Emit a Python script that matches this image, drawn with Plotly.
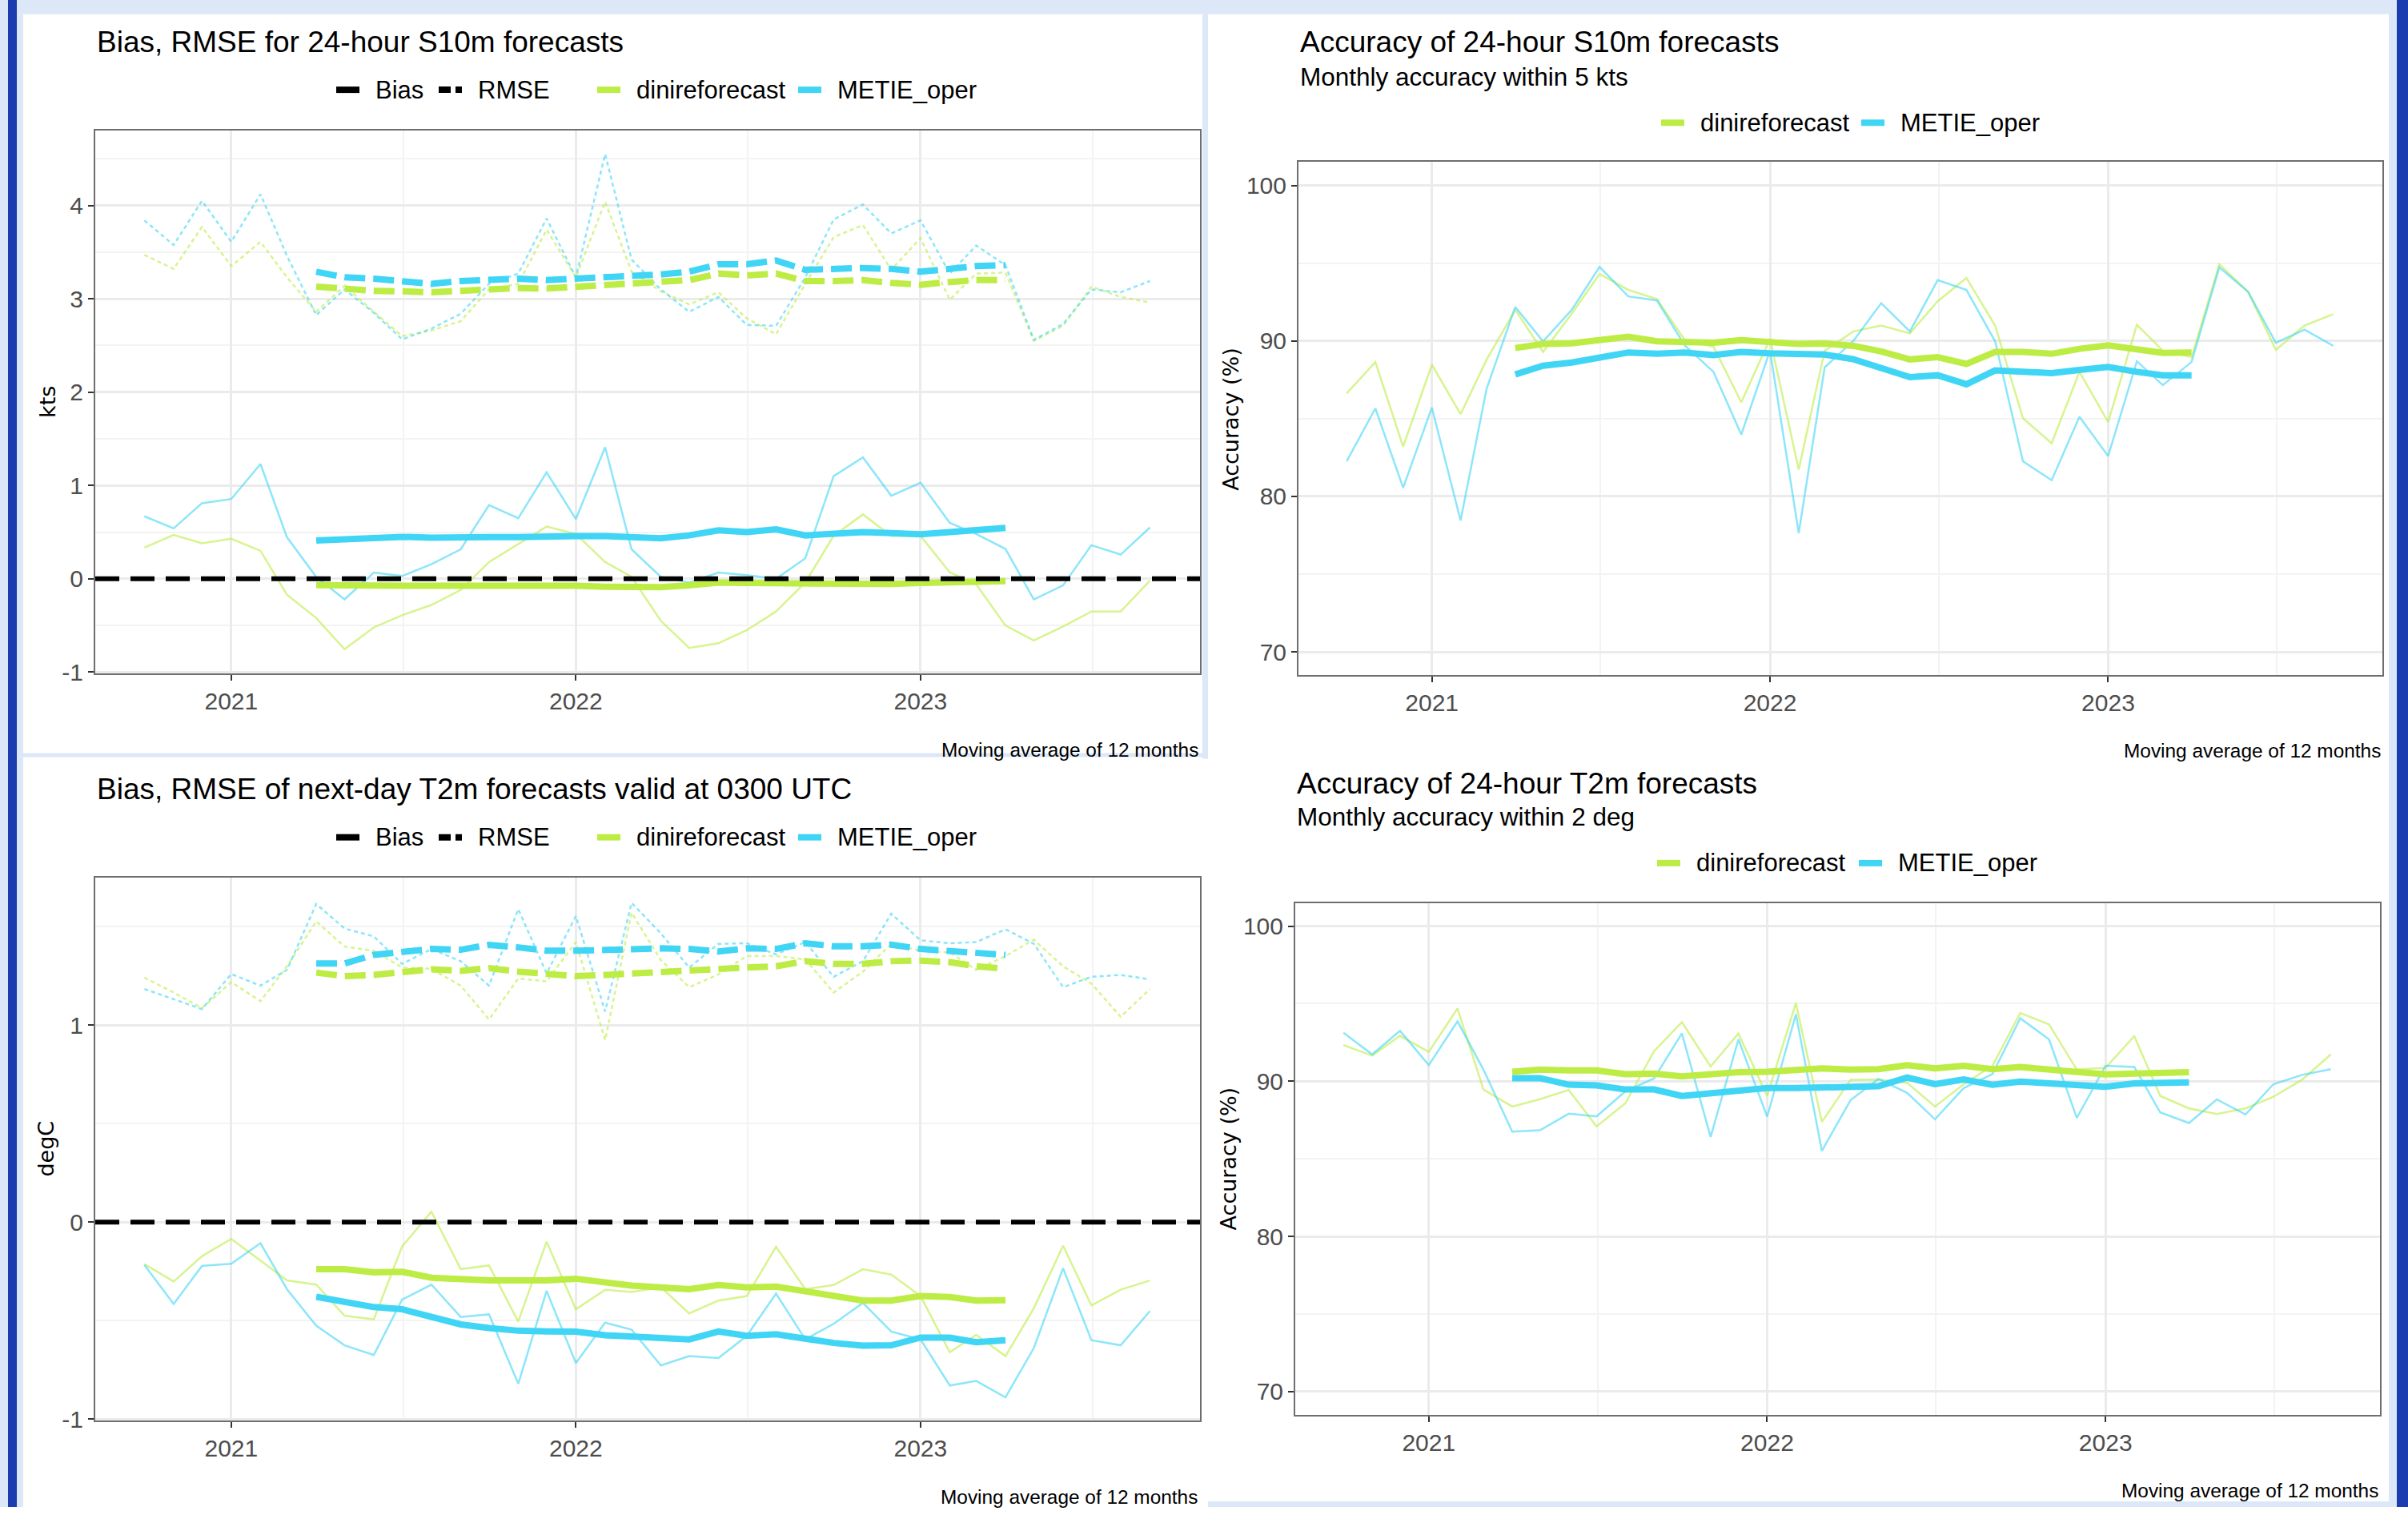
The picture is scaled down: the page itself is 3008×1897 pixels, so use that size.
import pandas as pd
import plotly.graph_objects as go

W, H = 3008, 1897

# ---------------- data ----------------
months = pd.date_range("2020-10-01", periods=36, freq="MS")
ma_months = pd.date_range("2021-04-01", periods=25, freq="MS")
year_ticks = ["2021", "2022", "2023"]
bias_yticks = [-1, 0, 1, 2, 3, 4]
t2_yticks = [-1, 0, 1]
acc_yticks = [70, 80, 90, 100]

s10_bias_dini = [0.335, 0.47, 0.38, 0.43, 0.30, -0.17, -0.42, -0.755, -0.52, -0.39, -0.28, -0.12,
                 0.18, 0.37, 0.56, 0.48, 0.18, 0.02, -0.45, -0.74, -0.69, -0.55, -0.35, -0.04,
                 0.46, 0.69, 0.46, 0.46, 0.07, -0.06, -0.50, -0.66, -0.51, -0.35, -0.35, -0.02]
s10_bias_metie = [0.67, 0.54, 0.81, 0.855, 1.23, 0.446, 0.02, -0.22, 0.067, 0.03, 0.156, 0.316,
                  0.79, 0.65, 1.14, 0.64, 1.41, 0.316, 0.02, -0.04, 0.067, 0.04, 0.0, 0.22,
                  1.10, 1.30, 0.89, 1.03, 0.60, 0.48, 0.32, -0.22, -0.07, 0.36, 0.26, 0.55]
s10_rmse_dini = [3.47, 3.32, 3.77, 3.35, 3.61, 3.23, 2.86, 3.14, 2.86, 2.60, 2.66, 2.76,
                 3.10, 3.16, 3.74, 3.23, 4.04, 3.29, 3.08, 2.94, 3.07, 2.79, 2.62, 3.16,
                 3.66, 3.79, 3.31, 3.65, 2.99, 3.27, 3.28, 2.55, 2.71, 3.13, 3.02, 2.96]
s10_rmse_metie = [3.84, 3.576, 4.05, 3.61, 4.12, 3.46, 2.825, 3.10, 2.85, 2.565, 2.68, 2.84,
                  3.16, 3.27, 3.86, 3.23, 4.55, 3.42, 3.10, 2.86, 3.02, 2.72, 2.71, 3.23,
                  3.85, 4.01, 3.70, 3.84, 3.27, 3.57, 3.36, 2.56, 2.73, 3.10, 3.07, 3.19]
s10_bias_dini_ma = [-0.067, -0.074, -0.08, -0.074, -0.074, -0.074, -0.067, -0.067, -0.067, -0.074,
                    -0.085, -0.093, -0.09, -0.07, -0.04, -0.045, -0.048, -0.05, -0.055, -0.06,
                    -0.055, -0.045, -0.035, -0.03, -0.025]
s10_bias_metie_ma = [0.41, 0.42, 0.43, 0.45, 0.44, 0.45, 0.446, 0.446, 0.457, 0.457, 0.457, 0.446,
                     0.435, 0.465, 0.52, 0.50, 0.53, 0.465, 0.476, 0.50, 0.49, 0.476, 0.50, 0.52, 0.546]
s10_rmse_dini_ma = [3.13, 3.10, 3.085, 3.08, 3.07, 3.085, 3.10, 3.115, 3.11, 3.13, 3.15, 3.16,
                    3.18, 3.20, 3.27, 3.25, 3.27, 3.19, 3.19, 3.20, 3.17, 3.15, 3.18, 3.20, 3.20]
s10_rmse_metie_ma = [3.29, 3.23, 3.215, 3.19, 3.16, 3.19, 3.20, 3.215, 3.20, 3.215, 3.23, 3.23,
                     3.26, 3.29, 3.37, 3.37, 3.41, 3.31, 3.32, 3.33, 3.32, 3.29, 3.32, 3.35, 3.36]

t2_bias_dini = [-0.213, -0.301, -0.173, -0.085, -0.195, -0.296, -0.317, -0.475, -0.493, -0.123, 0.053, -0.238,
                -0.22, -0.504, -0.099, -0.442, -0.343, -0.354, -0.33, -0.463, -0.398, -0.375, -0.125, -0.34,
                -0.319, -0.239, -0.266, -0.375, -0.66, -0.572, -0.68, -0.437, -0.12, -0.423, -0.343, -0.296]
t2_bias_metie = [-0.217, -0.415, -0.222, -0.211, -0.107, -0.34, -0.525, -0.625, -0.674, -0.393, -0.317, -0.481,
                 -0.468, -0.82, -0.349, -0.715, -0.51, -0.546, -0.727, -0.68, -0.69, -0.577, -0.363, -0.595,
                 -0.516, -0.41, -0.555, -0.595, -0.829, -0.806, -0.889, -0.639, -0.234, -0.599, -0.625, -0.451]
t2_rmse_dini = [1.241, 1.165, 1.086, 1.218, 1.121, 1.298, 1.526, 1.398, 1.377, 1.292, 1.285, 1.20,
                1.028, 1.236, 1.222, 1.421, 0.924, 1.570, 1.33, 1.192, 1.257, 1.35, 1.35, 1.333,
                1.165, 1.271, 1.412, 1.377, 1.368, 1.28, 1.35, 1.433, 1.298, 1.21, 1.042, 1.183]
t2_rmse_metie = [1.183, 1.132, 1.081, 1.259, 1.20, 1.28, 1.614, 1.49, 1.45, 1.31, 1.386, 1.324,
                 1.20, 1.588, 1.262, 1.553, 1.069, 1.62, 1.465, 1.292, 1.412, 1.415, 1.359, 1.421,
                 1.245, 1.324, 1.565, 1.43, 1.415, 1.421, 1.486, 1.412, 1.192, 1.245, 1.254, 1.232]
t2_bias_dini_ma = [-0.239, -0.239, -0.255, -0.252, -0.282, -0.292, -0.296, -0.296, -0.296, -0.287,
                   -0.308, -0.322, -0.331, -0.34, -0.319, -0.331, -0.327, -0.352, -0.37, -0.398,
                   -0.398, -0.375, -0.38, -0.398, -0.396]
t2_bias_metie_ma = [-0.379, -0.401, -0.431, -0.442, -0.484, -0.519, -0.537, -0.551, -0.555, -0.556,
                    -0.574, -0.581, -0.59, -0.595, -0.555, -0.577, -0.569, -0.595, -0.613, -0.627,
                    -0.625, -0.586, -0.586, -0.609, -0.599]
t2_rmse_dini_ma = [1.266, 1.248, 1.254, 1.271, 1.283, 1.275, 1.289, 1.271, 1.257, 1.248, 1.254, 1.262,
                   1.271, 1.28, 1.283, 1.292, 1.298, 1.324, 1.31, 1.31, 1.324, 1.327, 1.319, 1.298, 1.285]
t2_rmse_metie_ma = [1.312, 1.312, 1.356, 1.368, 1.386, 1.382, 1.407, 1.394, 1.377, 1.377, 1.382, 1.382,
                    1.389, 1.386, 1.373, 1.389, 1.386, 1.415, 1.40, 1.40, 1.408, 1.386, 1.377, 1.368, 1.356]

s10_acc_dini = [86.62, 88.64, 83.2, 88.47, 85.29, 88.78, 92.0, 89.29, 91.75, 94.3, 93.28, 92.69,
                90.05, 89.63, 86.05, 90.14, 81.72, 89.37, 90.61, 90.99, 90.48, 92.55, 94.05, 90.99,
                85.03, 83.42, 88.01, 84.78, 91.04, 89.37, 88.95, 94.93, 93.16, 89.42, 90.99, 91.72]
s10_acc_metie = [82.26, 85.66, 80.56, 85.71, 78.45, 86.9, 92.18, 89.97, 92.0, 94.76, 92.86, 92.6,
                 89.71, 88.01, 83.98, 89.37, 77.64, 88.30, 90.0, 92.43, 90.61, 93.91, 93.28, 89.97,
                 82.26, 81.04, 85.12, 82.6, 88.69, 87.16, 88.64, 94.73, 93.16, 89.88, 90.73, 89.68]
s10_acc_dini_ma = [89.54, 89.80, 89.85, 90.10, 90.27, 89.97, 89.97, 89.88, 90.05, 89.93, 89.80, 89.83,
                   89.68, 89.32, 88.81, 88.95, 88.52, 89.29, 89.29, 89.17, 89.49, 89.71, 89.51, 89.23, 89.25]
s10_acc_metie_ma = [87.84, 88.40, 88.61, 88.91, 89.25, 89.17, 89.25, 89.08, 89.29, 89.20, 89.12, 89.12,
                    88.82, 88.27, 87.67, 87.79, 87.21, 88.10, 88.01, 87.93, 88.13, 88.32, 88.01, 87.79, 87.79]

t2_acc_dini = [92.33, 91.65, 92.93, 91.89, 94.69, 89.47, 88.37, 88.84, 89.44, 87.09, 88.57, 91.94,
               93.81, 90.95, 93.08, 89.05, 95.05, 87.38, 90.10, 90.12, 89.90, 88.37, 89.81, 91.0,
               94.40, 93.67, 90.75, 90.87, 92.91, 89.05, 88.25, 87.89, 88.25, 89.0, 90.10, 91.73]
t2_acc_metie = [93.13, 91.73, 93.25, 91.04, 93.86, 90.75, 86.75, 86.84, 87.91, 87.74, 89.35, 90.19,
                93.08, 86.41, 92.70, 87.72, 94.32, 85.51, 88.79, 90.15, 89.25, 87.55, 89.56, 90.46,
                94.06, 92.70, 87.64, 91.0, 90.92, 87.99, 87.31, 88.83, 87.86, 89.81, 90.41, 90.78]
t2_acc_dini_ma = [90.61, 90.75, 90.70, 90.70, 90.46, 90.49, 90.32, 90.49, 90.58, 90.61, 90.75, 90.83,
                  90.75, 90.78, 91.04, 90.83, 91.0, 90.78, 90.92, 90.75, 90.54, 90.44, 90.49, 90.53, 90.58]
t2_acc_metie_ma = [90.20, 90.20, 89.78, 89.73, 89.47, 89.47, 89.05, 89.22, 89.47, 89.56, 89.56, 89.59,
                   89.64, 89.68, 90.24, 89.81, 90.12, 89.78, 89.98, 89.86, 89.76, 89.64, 89.86, 89.93, 89.93]

# ---------------- style ----------------
GREEN = "#BDEC45"
CYAN = "#40D5F5"
GREEN_T = "rgba(189,236,69,0.6)"
CYAN_T = "rgba(64,213,245,0.6)"
FONT = "Liberation Sans"
TICKC = "#4D4D4D"
GRID = "#EBEBEB"
GRID_MINOR = "#F3F3F3"
THIN = 2.5
THICK = 8
THIN_DASH = "5px,4px"
THICK_DASH = "26px,10px"


def px(x):
    return x / W


def py(y):
    return 1 - y / H


fig = go.Figure()

# panel pixel boxes (left, top, right, bottom)
boxes = {
    1: (119, 164, 1499, 848),
    2: (1622, 204, 2976, 850),
    3: (119, 1105, 1499, 1788),
    4: (1618, 1136.5, 2973, 1781),
}
yranges = {1: [-1.016, 4.805], 2: [68.5, 101.5], 3: [-1.006, 1.747], 4: [68.5, 101.5]}
yticks = {1: bias_yticks, 2: acc_yticks, 3: t2_yticks, 4: acc_yticks}
yminor = {1: 0.5, 2: 5, 3: 0.5, 4: 5}


def ax(k):
    return ("x", "y") if k == 1 else (f"x{k}", f"y{k}")


def line(k, x, y, color, width, dash="solid"):
    xr, yr = ax(k)
    fig.add_trace(go.Scatter(x=x, y=y, mode="lines", showlegend=False,
                             line=dict(color=color, width=width, dash=dash),
                             xaxis=xr, yaxis=yr, hoverinfo="skip"))


# Panel 1: S10m bias / RMSE
line(1, months, s10_rmse_dini, GREEN_T, THIN, THIN_DASH)
line(1, months, s10_rmse_metie, CYAN_T, THIN, THIN_DASH)
line(1, months, s10_bias_dini, GREEN_T, THIN)
line(1, months, s10_bias_metie, CYAN_T, THIN)
line(1, ma_months, s10_rmse_dini_ma, GREEN, THICK, THICK_DASH)
line(1, ma_months, s10_rmse_metie_ma, CYAN, THICK, THICK_DASH)
line(1, ma_months, s10_bias_dini_ma, GREEN, THICK)
line(1, ma_months, s10_bias_metie_ma, CYAN, THICK)

# Panel 2: S10m accuracy
line(2, months, s10_acc_dini, GREEN_T, THIN)
line(2, months, s10_acc_metie, CYAN_T, THIN)
line(2, ma_months, s10_acc_dini_ma, GREEN, THICK)
line(2, ma_months, s10_acc_metie_ma, CYAN, THICK)

# Panel 3: T2m bias / RMSE
line(3, months, t2_rmse_dini, GREEN_T, THIN, THIN_DASH)
line(3, months, t2_rmse_metie, CYAN_T, THIN, THIN_DASH)
line(3, months, t2_bias_dini, GREEN_T, THIN)
line(3, months, t2_bias_metie, CYAN_T, THIN)
line(3, ma_months, t2_rmse_dini_ma, GREEN, THICK, THICK_DASH)
line(3, ma_months, t2_rmse_metie_ma, CYAN, THICK, THICK_DASH)
line(3, ma_months, t2_bias_dini_ma, GREEN, THICK)
line(3, ma_months, t2_bias_metie_ma, CYAN, THICK)

# Panel 4: T2m accuracy
line(4, months, t2_acc_dini, GREEN_T, THIN)
line(4, months, t2_acc_metie, CYAN_T, THIN)
line(4, ma_months, t2_acc_dini_ma, GREEN, THICK)
line(4, ma_months, t2_acc_metie_ma, CYAN, THICK)

layout = dict(
    width=W, height=H, margin=dict(l=0, r=0, t=0, b=0),
    paper_bgcolor="white", plot_bgcolor="white",
    font=dict(family=FONT, color="black"),
    showlegend=False,
)

for k, (l, t, r, b) in boxes.items():
    xa = "xaxis" if k == 1 else f"xaxis{k}"
    ya = "yaxis" if k == 1 else f"yaxis{k}"
    xr, yr = ax(k)
    layout[xa] = dict(
        domain=[px(l), px(r)], anchor=yr, type="date",
        range=["2020-08-10", "2023-10-24"],
        tickvals=[f"{y}-01-01" for y in year_ticks], ticktext=year_ticks,
        ticks="outside", ticklen=7, tickwidth=2, tickcolor="#333333",
        tickfont=dict(family=FONT, size=30, color=TICKC),
        showgrid=True, gridcolor=GRID, gridwidth=3,
        minor=dict(tickvals=["2020-07-02", "2021-07-02", "2022-07-02", "2023-07-02"],
                   showgrid=True, gridcolor=GRID_MINOR, gridwidth=1.5),
        showline=True, linecolor="#6E6E6E", linewidth=2, mirror=True,
        zeroline=False, fixedrange=True,
    )
    layout[ya] = dict(
        domain=[py(b), py(t)], anchor=xr, range=yranges[k],
        tickvals=yticks[k], ticktext=[str(v) for v in yticks[k]],
        ticks="outside", ticklen=7, tickwidth=2, tickcolor="#333333",
        tickfont=dict(family=FONT, size=30, color=TICKC),
        showgrid=True, gridcolor=GRID, gridwidth=3,
        minor=dict(dtick=yminor[k], tick0=0, showgrid=True, gridcolor=GRID_MINOR, gridwidth=1.5),
        showline=True, linecolor="#6E6E6E", linewidth=2, mirror=True,
        zeroline=False, fixedrange=True,
    )

fig.update_layout(**layout)

# zero reference lines in bias panels
for k in (1, 3):
    xr, yr = ax(k)
    fig.add_shape(type="line", xref=f"{xr} domain", yref=yr, x0=0, x1=1, y0=0, y1=0,
                  line=dict(color="black", width=6, dash="30px,14px"), layer="above")

# frame decoration (slide border)
PALE = "#DCE7F8"
DARK = "#1C3DB0"
deco = [
    (0, 0, 3008, 18, PALE),
    (0, 0, 10, 1897, PALE),
    (10, 0, 21, 1897, DARK),
    (21, 18, 29, 1897, PALE),
    (2984, 0, 2994, 1897, PALE),
    (2994, 0, 3008, 1897, DARK),
    (1502, 18, 1509, 955, PALE),
    (29, 948, 1502, 953, PALE),
    (1509, 1890, 2984, 1897, PALE),
]
for x0, y0, x1, y1, c in deco:
    fig.add_shape(type="rect", xref="paper", yref="paper", x0=px(x0), x1=px(x1),
                  y0=py(y1), y1=py(y0), fillcolor=c, line=dict(width=0), layer="below")


# text annotations
def text(x, y, s, size, xanchor="left", color="black", family=FONT, angle=0):
    fig.add_annotation(x=px(x), y=py(y), xref="paper", yref="paper", text=s, showarrow=False,
                       xanchor=xanchor, yanchor="middle", textangle=angle,
                       font=dict(family=family, size=size, color=color))


text(119, 52.7, "Bias, RMSE for 24-hour S10m forecasts", 37)
text(1622, 53, "Accuracy of 24-hour S10m forecasts", 37)
text(1622, 97, "Monthly accuracy within 5 kts", 31.5)
text(119, 993.7, "Bias, RMSE of next-day T2m forecasts valid at 0300 UTC", 37)
text(1618, 985.8, "Accuracy of 24-hour T2m forecasts", 37)
text(1618, 1028.5, "Monthly accuracy within 2 deg", 31.5)

text(1499, 944, "Moving average of 12 months", 24.4, xanchor="right")
text(2976, 945, "Moving average of 12 months", 24.4, xanchor="right")
text(1498, 1884.8, "Moving average of 12 months", 24.4, xanchor="right")
text(2973, 1876.8, "Moving average of 12 months", 24.4, xanchor="right")

text(60, 506, "kts", 27, xanchor="center", family="DejaVu Sans", angle=-90)
text(1538, 527, "Accuracy (%)", 27, xanchor="center", family="DejaVu Sans", angle=-90)
text(58, 1446, "degC", 27, xanchor="center", family="DejaVu Sans", angle=-90)
text(1534, 1459, "Accuracy (%)", 27, xanchor="center", family="DejaVu Sans", angle=-90)


# legends (ggplot-style keys + labels)
def legend_item(x0, yc, label, color, dash="solid"):
    fig.add_shape(type="line", xref="paper", yref="paper", x0=px(x0), x1=px(x0 + 29),
                  y0=py(yc), y1=py(yc), line=dict(color=color, width=8, dash=dash))
    text(x0 + 47, yc, label, 31)


for yc in (113, 1054):
    legend_item(420, yc, "Bias", "black")
    legend_item(548, yc, "RMSE", "black", "15px,6px")
    legend_item(746, yc, "dinireforecast", GREEN)
    legend_item(997, yc, "METIE_oper", CYAN)
legend_item(2075, 154.5, "dinireforecast", GREEN)
legend_item(2325, 154.5, "METIE_oper", CYAN)
legend_item(2070, 1086.5, "dinireforecast", GREEN)
legend_item(2322, 1086.5, "METIE_oper", CYAN)

fig.write_html("out.html", config={"displayModeBar": False},
               post_script="document.body.style.margin='0px';document.body.style.padding='0px';"
                           "document.body.style.overflow='hidden';")
